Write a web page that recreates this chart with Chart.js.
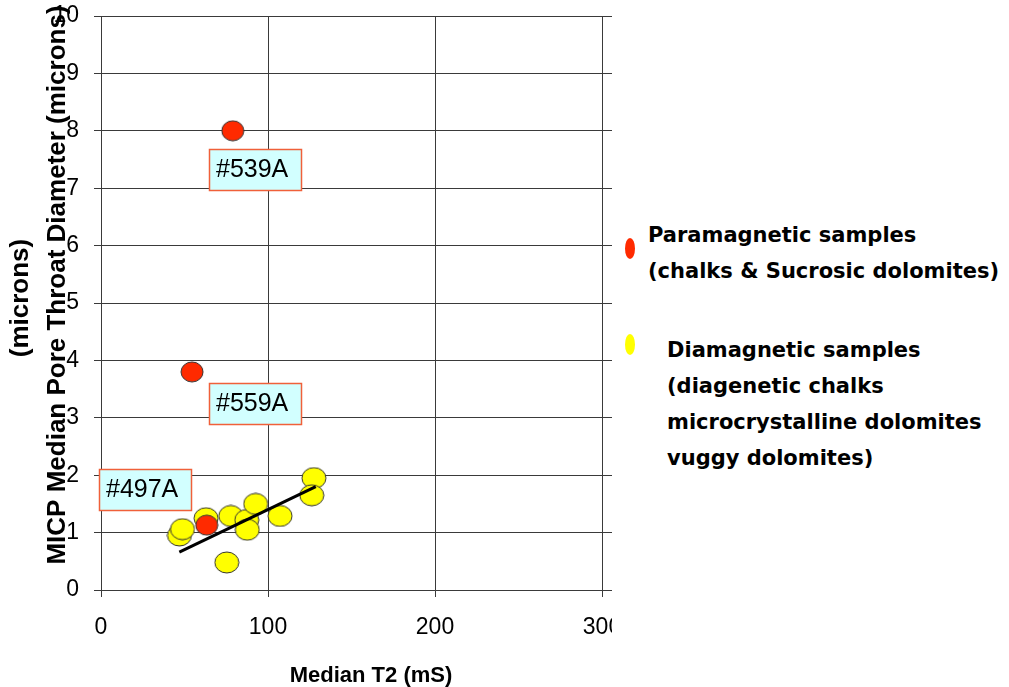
<!DOCTYPE html>
<html>
<head>
<meta charset="utf-8">
<script src="https://cdn.jsdelivr.net/npm/chart.js@4/dist/chart.umd.min.js"></script>
<style>
  body { margin: 0; background: #fff; }
  #wrap { position: absolute; left: 0; top: 0; width: 612px; height: 687px; overflow: hidden; }
  #legend { position: absolute; left: 0; top: 0; font-family: "DejaVu Sans", Verdana, sans-serif; font-weight: bold; font-size: 21px; line-height: 36px; color: #000; }
  .txt { position: absolute; white-space: nowrap; }
  .mk { position: absolute; width: 10px; height: 21px; border-radius: 50%; }
</style>
</head>
<body>
<div id="wrap"><canvas id="grafico" width="800" height="687"></canvas></div>
<div id="legend">
  <div class="mk" style="left:625px;top:238px;background:#ff2a00;"></div>
  <div class="txt" style="left:648px;top:217px;">Paramagnetic samples<br>(chalks &amp; Sucrosic dolomites)</div>
  <div class="mk" style="left:625px;top:334px;background:#ffff00;"></div>
  <div class="txt" style="left:667px;top:332px;">Diamagnetic samples<br>(diagenetic chalks<br>microcrystalline dolomites<br>vuggy dolomites)</div>
</div>
<script>
// valores
const redT2 = [78.9, 54.5, 63.3];
const redPore = [8.0, 3.8, 1.13];
const yellowT2 = [47.0, 48.8, 62.9, 77.7, 87.3, 87.6, 92.6, 107.2, 127.5, 126.2, 75.3];
const yellowPore = [0.95, 1.06, 1.25, 1.29, 1.22, 1.05, 1.50, 1.29, 1.95, 1.65, 0.48];
const trendT2 = [46.9, 128.6];
const trendPore = [0.66, 1.80];

// caixas de rótulo (canto superior esquerdo, em unidades dos dados)
const labelText = ['#539A', '#559A', '#497A'];
const labelT2 = [64.7, 64.7, -1.2];
const labelPore = [7.68, 3.61, 2.11];

const xTicks = [0, 100, 200, 300, 400];
const yTicks = [0, 1, 2, 3, 4, 5, 6, 7, 8, 9, 10];

const gridColor = '#3a3a3a';
const tickFont = { family: 'Liberation Sans, Arial', size: 23 };

function pontos(xs, ys) {
  return xs.map((x, i) => ({ x, y: ys[i] }));
}

// marcador elíptico
function elipse(fill, w, h) {
  const c = document.createElement('canvas');
  c.width = w + 2;
  c.height = h + 2;
  const g = c.getContext('2d');
  g.beginPath();
  g.ellipse((w + 2) / 2, (h + 2) / 2, w / 2, h / 2, 0, 0, Math.PI * 2);
  g.fillStyle = fill;
  g.fill();
  g.strokeStyle = '#333';
  g.lineWidth = 1;
  g.stroke();
  return c;
}

const extras = {
  id: 'extras',
  afterDraw(chart) {
    const ctx = chart.ctx;
    const xs = chart.scales.x, ys = chart.scales.y;
    ctx.save();
    // rótulos das amostras
    ctx.font = '25px Liberation Sans, Arial';
    ctx.textBaseline = 'middle';
    ctx.textAlign = 'left';
    labelText.forEach((t, i) => {
      const left = Math.round(xs.getPixelForValue(labelT2[i]));
      const top = Math.round(ys.getPixelForValue(labelPore[i]));
      ctx.fillStyle = '#d2ffff';
      ctx.fillRect(left, top, 92, 41);
      ctx.strokeStyle = '#f0603a';
      ctx.lineWidth = 1.5;
      ctx.strokeRect(left + 0.5, top + 0.5, 92, 41);
      ctx.fillStyle = '#000';
      ctx.fillText(t, left + 7, top + 21);
    });
    // títulos dos eixos
    ctx.fillStyle = '#000';
    ctx.font = 'bold 22px Liberation Sans, Arial';
    ctx.textAlign = 'center';
    ctx.textBaseline = 'alphabetic';
    ctx.fillText('Median T2 (mS)', 371, 682);
    ctx.font = 'bold 26px Liberation Sans, Arial';
    ctx.save();
    ctx.translate(65, 285);
    ctx.rotate(-Math.PI / 2);
    ctx.fillText('MICP Median Pore Throat Diameter (microns)', 0, 0);
    ctx.restore();
    ctx.save();
    ctx.translate(28, 298);
    ctx.rotate(-Math.PI / 2);
    ctx.fillText('(microns)', 0, 0);
    ctx.restore();
    ctx.restore();
  }
};

new Chart(document.getElementById('grafico').getContext('2d'), {
  type: 'scatter',
  data: {
    datasets: [
      {
        label: 'trend',
        type: 'line',
        data: pontos(trendT2, trendPore),
        borderColor: '#000',
        borderWidth: 3,
        pointRadius: 0,
        fill: false,
        order: 0
      },
      {
        label: 'Paramagnetic samples',
        data: pontos(redT2, redPore),
        pointStyle: elipse('#ff2a00', 22, 20),
        order: 1
      },
      {
        label: 'Diamagnetic samples',
        data: pontos(yellowT2, yellowPore),
        pointStyle: elipse('#ffff00', 24, 21),
        order: 2
      }
    ]
  },
  options: {
    responsive: false,
    animation: false,
    layout: { padding: { top: 16, right: 31, left: 0, bottom: 0 } },
    plugins: { legend: { display: false }, tooltip: { enabled: false } },
    scales: {
      x: {
        type: 'linear',
        min: 0,
        max: 400,
        afterBuildTicks: s => { s.ticks = xTicks.map(v => ({ value: v })); },
        afterFit: s => { s.height = 97; s.paddingLeft = 0; s.paddingRight = 0; },
        ticks: { color: '#000', font: tickFont, padding: 17, maxRotation: 0 },
        grid: { color: gridColor, tickLength: 7 },
        border: { color: gridColor }
      },
      y: {
        min: 0,
        max: 10,
        afterBuildTicks: s => { s.ticks = yTicks.map(v => ({ value: v })); },
        afterFit: s => { s.width = 101; s.paddingTop = 0; s.paddingBottom = 0; },
        ticks: { color: '#000', font: tickFont, padding: 15 },
        grid: { color: gridColor, tickLength: 7 },
        border: { color: gridColor }
      }
    }
  },
  plugins: [extras]
});
</script>
</body>
</html>
